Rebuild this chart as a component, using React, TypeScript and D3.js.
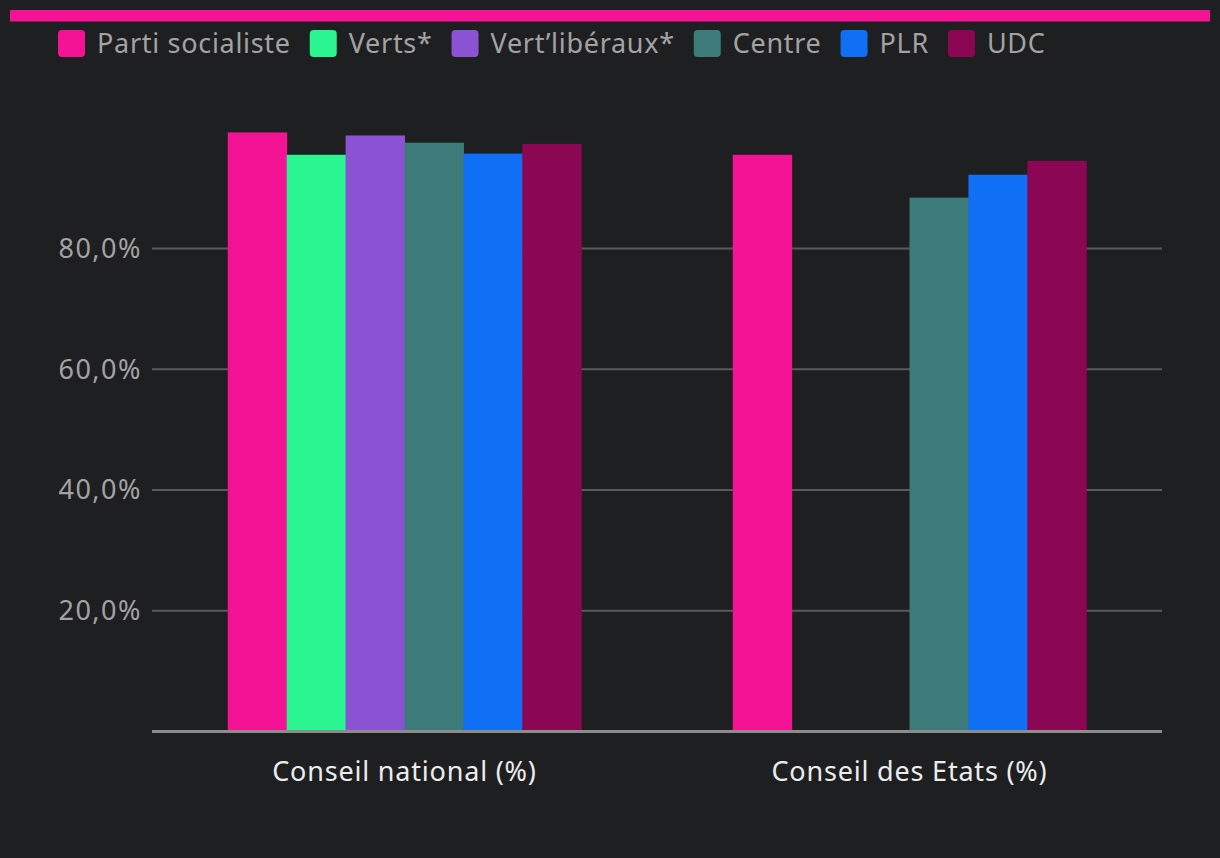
import React, { useEffect, useRef } from "react";
import * as d3 from "d3";

const categories = ["Conseil national (%)", "Conseil des Etats (%)"];
const seriesNames = ["Parti socialiste", "Verts*", "Vert’libéraux*", "Centre", "PLR", "UDC"];
const seriesColors = ["#f41394", "#2bf591", "#8b52d4", "#3d7a7a", "#0f6ff5", "#8b0653"];
const conseilNational = [99.2, 95.5, 98.7, 97.5, 95.7, 97.3];
const conseilEtats = [95.5, null, null, 88.4, 92.2, 94.5];
const yTicks = [20, 40, 60, 80];

const W = 1220;
const H = 858;
const FONT = "'Noto Sans', 'Open Sans', sans-serif";

export default function App() {
  const ref = useRef<SVGSVGElement | null>(null);

  useEffect(() => {
    const svg = d3.select(ref.current);
    svg.selectAll("*").remove();

    svg.append("rect").attr("width", W).attr("height", H).attr("fill", "#1e1f21");
    svg.append("rect").attr("x", 10).attr("y", 10).attr("width", 1200).attr("height", 11.5).attr("fill", "#f41394");

    // legend
    const lg = svg.append("g");
    let lx = 58;
    seriesNames.forEach((name, i) => {
      lg.append("rect").attr("x", lx).attr("y", 30).attr("width", 27).attr("height", 27).attr("rx", 4).attr("fill", seriesColors[i]);
      const t = lg.append("text").attr("x", lx + 39).attr("y", 52.5).attr("fill", "#a3a3a3")
        .attr("font-family", FONT).attr("font-size", 27).attr("letter-spacing", 0.7).text(name);
      const w = (t.node() as SVGTextElement).getComputedTextLength();
      lx = lx + 39 + w + 19;
    });

    const left = 152, right = 1162;
    const x0 = d3.scaleBand<string>().domain(categories).range([left, right]).paddingInner(0.3).paddingOuter(0.15);
    const x1 = d3.scaleBand<string>().domain(seriesNames).range([0, x0.bandwidth()]);
    const y = d3.scaleLinear().domain([0, 100]).range([731.5, 127.6]);

    // gridlines
    svg.append("g").selectAll("line").data(yTicks).join("line")
      .attr("x1", left).attr("x2", right).attr("y1", (d) => y(d)).attr("y2", (d) => y(d))
      .attr("stroke", "#5a5a5a").attr("stroke-width", 2);

    svg.append("g").selectAll("text").data(yTicks).join("text")
      .attr("x", 142).attr("y", (d) => y(d) + 9.5).attr("text-anchor", "end")
      .attr("fill", "#a3a3a3").attr("font-family", FONT).attr("font-size", 27).attr("letter-spacing", 1.5)
      .text((d) => d3.format(".1f")(d).replace(".", ",") + "%");

    const data = [conseilNational, conseilEtats];
    const groups = svg.append("g").selectAll("g").data(categories).join("g")
      .attr("transform", (c) => `translate(${x0(c)},0)`);
    groups.selectAll("rect").data((c, ci) => seriesNames.map((s, si) => ({ s, si, v: data[ci][si] })))
      .join("rect")
      .filter((d) => d.v != null)
      .attr("x", (d) => x1(d.s)!)
      .attr("width", x1.bandwidth() + 0.5)
      .attr("y", (d) => y(d.v as number))
      .attr("height", (d) => y(0) - y(d.v as number))
      .attr("fill", (d) => seriesColors[d.si]);

    svg.append("line").attr("x1", left).attr("x2", right).attr("y1", 731.5).attr("y2", 731.5)
      .attr("stroke", "#8c8c8c").attr("stroke-width", 3);

    svg.append("g").selectAll("text").data(categories).join("text")
      .attr("x", (c) => x0(c)! + x0.bandwidth() / 2).attr("y", 781)
      .attr("text-anchor", "middle").attr("fill", "#ececec")
      .attr("font-family", FONT).attr("font-size", 27).attr("letter-spacing", 0.8).text((c) => c);
  }, []);

  return (
    <div style={{ position: "fixed", left: 0, top: 0 }}>
      <svg ref={ref} width={W} height={H} style={{ display: "block" }} />
    </div>
  );
}
